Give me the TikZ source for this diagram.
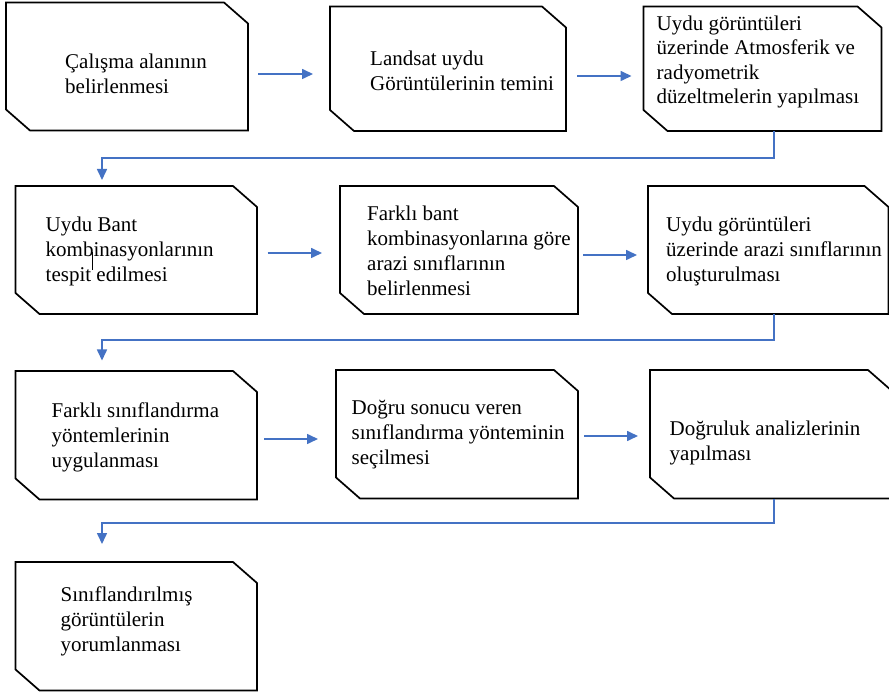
\documentclass[tikz,border=0pt]{standalone}
\usepackage{fontspec}
\setmainfont{Liberation Serif}
\usetikzlibrary{calc,arrows.meta,fit}
\definecolor{flowblue}{RGB}{68,114,196}
\tikzset{
  boxarea/.style={inner sep=0pt, outer sep=0pt, draw=none},
  boxline/.style={draw=black, line width=1.7pt, line join=miter},
  boxtext/.style={anchor=north west, inner sep=0pt, align=left, font=\fontsize{21}{25}\selectfont},
  flow/.style={draw=flowblue, line width=1.6pt, -{Triangle[length=11pt,width=10pt]}},
}
\newcommand\snipbox[5]{%
  \node[boxarea, fit={(#2,#3) (#4,#5)}] (#1) {};
  \draw[boxline] (#1.north west) -- ($(#1.north east)+(-24,0)$) -- ($(#1.north east)+(0,21)$)
    -- (#1.south east) -- ($(#1.south west)+(24,0)$) -- ($(#1.south west)+(0,-21)$) -- cycle;
}
\begin{document}
\begin{tikzpicture}[x=1pt,y=-1pt]
\clip (0,0) rectangle (889,692);
\fill[white] (0,0) rectangle (889,692);

\snipbox{b1}{6}{2.5}{248}{130.5}
\snipbox{b2}{330}{6.5}{566}{131}
\snipbox{b3}{643.5}{6.5}{881.5}{131}
\snipbox{b4}{15.5}{186}{257}{314}
\snipbox{b5}{340}{186}{578}{314}
\snipbox{b6}{648}{186}{888.5}{314}
\snipbox{b7}{15.5}{371}{257}{499.5}
\snipbox{b8}{336}{370}{578}{498.5}
\snipbox{b9}{650}{370}{892}{498.5}
\snipbox{b10}{15.5}{562}{257}{690.5}

\node[boxtext] (t1) at (65,54) {Çalışma alanının\\belirlenmesi};
\node[boxtext] (t2) at (370,51) {Landsat uydu\\Görüntülerinin temini};
\node[boxtext, font=\fontsize{21}{24.5}\selectfont] (t3) at (656.5,15.5) {Uydu görüntüleri\\üzerinde Atmosferik ve\\radyometrik\\düzeltmelerin yapılması};
\node[boxtext] (t4) at (45.5,216.5) {Uydu Bant\\kombinasyonlarının\\tespit edilmesi};
\node[boxtext] (t5) at (367,205.5) {Farklı bant\\kombinasyonlarına göre\\arazi sınıflarının\\belirlenmesi};
\node[boxtext] (t6) at (666,217) {Uydu görüntüleri\\üzerinde arazi sınıflarının\\oluşturulması};
\node[boxtext] (t7) at (51.5,403) {Farklı sınıflandırma\\yöntemlerinin\\uygulanması};
\node[boxtext] (t8) at (351.5,400) {Doğru sonucu veren\\sınıflandırma yönteminin\\seçilmesi};
\node[boxtext] (t9) at (669.5,420.5) {Doğruluk analizlerinin\\yapılması};
\node[boxtext] (t10) at (60.5,587) {Sınıflandırılmış\\görüntülerin\\yorumlanması};

% text cursor mark seen in the reference
\draw[line width=0.6pt] (92.5,252) -- (92.5,270);

\draw[flow, shorten <=10pt, shorten >=17pt] (b1.east |- 0,74) -- (b2.west |- 0,74);
\draw[flow, shorten <=11pt, shorten >=12pt] (b2.east |- 0,76) -- (b3.west |- 0,76);
\draw[flow, shorten <=10.5pt, shorten >=18pt] (b4.east |- 0,253) -- (b5.west |- 0,253);
\draw[flow, shorten <=5pt, shorten >=11pt] (b5.east |- 0,255) -- (b6.west |- 0,255);
\draw[flow, shorten <=7pt, shorten >=18pt] (b7.east |- 0,439) -- (b8.west |- 0,439);
\draw[flow, shorten <=6pt, shorten >=12pt] (b8.east |- 0,436) -- (b9.west |- 0,436);

\draw[flow, shorten >=6pt] (b3.south -| 774,0) |- (102,158) -- (b4.north -| 102,0);
\draw[flow, shorten >=10.5pt] (b6.south -| 774,0) |- (102,340) -- (b7.north -| 102,0);
\draw[flow, shorten >=18pt] (b9.south -| 774,0) |- (102,523) -- (b10.north -| 102,0);
\end{tikzpicture}
\end{document}
